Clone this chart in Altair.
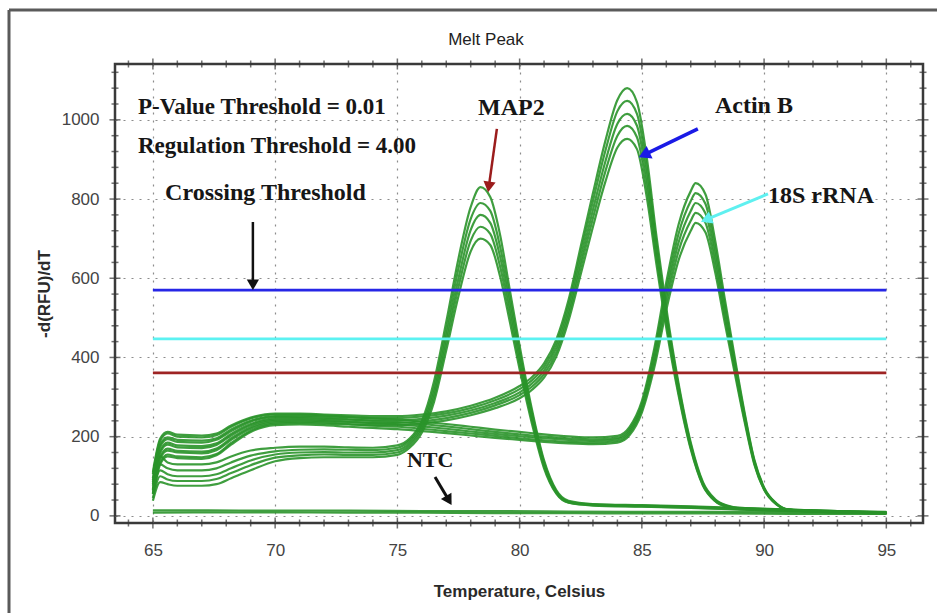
import math
import altair as alt
import pandas as pd

# ---------------- data ----------------
T_MAP2 = [65, 65.3, 65.6, 66, 67, 67.6, 68.2, 69, 70, 71, 72, 73, 74, 75, 75.5, 76, 76.5, 77, 77.5, 78,
          78.4, 78.8, 79.2, 79.6, 80, 80.5, 81, 81.5, 82, 83, 85, 87, 89, 91, 93, 95]
MAP2_R1 = [85, 150, 135, 130, 130, 135, 150, 165, 172, 175, 175, 173, 172, 178, 195, 240, 340, 490, 650, 780,
           830, 805, 710, 570, 430, 270, 140, 65, 38, 30, 27, 24, 20, 16, 12, 8]
MAP2_R2 = [65, 130, 120, 115, 115, 120, 135, 152, 163, 167, 168, 167, 166, 172, 190, 232, 325, 470, 625, 750,
           790, 770, 680, 550, 415, 262, 135, 62, 36, 29, 26, 23, 19, 15, 11, 8]
MAP2_R3 = [55, 115, 105, 100, 100, 105, 120, 140, 155, 160, 161, 160, 160, 166, 184, 225, 312, 452, 600, 722,
           760, 740, 655, 530, 400, 252, 130, 60, 35, 28, 25, 22, 18, 14, 10, 7]
MAP2_R4 = [45, 100, 92, 88, 88, 93, 108, 128, 147, 153, 155, 154, 154, 160, 178, 218, 300, 435, 578, 695,
           730, 712, 630, 510, 385, 243, 125, 58, 34, 27, 24, 21, 17, 13, 10, 7]
MAP2_R5 = [38, 85, 80, 76, 76, 80, 95, 115, 138, 146, 148, 148, 148, 154, 172, 210, 288, 418, 555, 668,
           700, 684, 605, 490, 370, 234, 120, 56, 33, 26, 23, 20, 16, 12, 9, 6]

T_ACTIN = [65, 65.3, 65.6, 66, 67, 67.6, 68.2, 69, 70, 71, 72, 73, 74, 75, 76, 77, 78, 79, 80, 80.5, 81,
           81.5, 82, 82.5, 83, 83.5, 84, 84.4, 84.8, 85.2, 85.6, 86, 86.5, 87, 87.5, 88, 88.5, 89, 91, 93, 95]
ACTIN_R1 = [110, 195, 212, 205, 203, 208, 228, 248, 258, 258, 256, 254, 252, 252, 256, 264, 278, 298, 328, 350, 385,
            445, 545, 680, 815, 945, 1050, 1080, 1045, 905, 705, 525, 335, 185, 85, 42, 26, 20, 16, 12, 10]
ACTIN_R2 = [95, 180, 198, 192, 190, 196, 218, 240, 252, 253, 251, 249, 247, 247, 251, 259, 272, 292, 320, 342, 376,
            435, 532, 663, 795, 920, 1022, 1048, 1015, 880, 688, 512, 328, 180, 82, 40, 25, 19, 15, 12, 9]
ACTIN_R3 = [80, 165, 185, 178, 176, 183, 207, 232, 246, 247, 245, 243, 241, 241, 245, 253, 266, 285, 312, 334, 367,
            424, 518, 645, 773, 893, 990, 1015, 985, 855, 670, 500, 320, 176, 80, 39, 24, 18, 15, 11, 9]
ACTIN_R4 = [68, 150, 170, 164, 162, 170, 196, 224, 240, 241, 239, 237, 235, 235, 239, 247, 260, 279, 305, 326, 358,
            413, 505, 628, 752, 868, 960, 985, 956, 830, 652, 487, 312, 172, 78, 38, 23, 18, 14, 11, 8]
ACTIN_R5 = [58, 135, 155, 150, 148, 156, 184, 215, 233, 235, 233, 231, 229, 229, 233, 241, 254, 272, 297, 318, 349,
            402, 492, 610, 730, 842, 930, 952, 926, 805, 634, 474, 305, 168, 76, 37, 22, 17, 13, 10, 8]

T_18S = [65, 65.3, 65.6, 66, 67, 67.6, 68.2, 69, 70, 71, 72, 73, 74, 75, 76, 77, 78, 79, 80, 81, 82, 83, 84,
         84.5, 85, 85.5, 86, 86.5, 87, 87.2, 87.6, 88, 88.4, 88.8, 89.2, 89.6, 90, 90.5, 91, 93, 95]
S18_R1 = [105, 190, 208, 200, 198, 204, 225, 246, 256, 256, 254, 250, 246, 243, 238, 232, 225, 218, 212, 206, 201, 198, 202,
          225, 290, 420, 590, 735, 820, 840, 812, 695, 545, 400, 262, 142, 72, 32, 16, 10, 8]
S18_R2 = [90, 175, 194, 187, 185, 192, 214, 238, 250, 250, 248, 244, 240, 237, 232, 226, 219, 212, 206, 200, 196, 193, 197,
          219, 282, 408, 572, 712, 795, 815, 788, 675, 530, 390, 256, 139, 70, 31, 16, 10, 8]
S18_R3 = [76, 160, 180, 173, 171, 179, 203, 229, 243, 244, 242, 238, 234, 231, 226, 220, 213, 207, 201, 196, 192, 189, 193,
          214, 275, 396, 555, 690, 770, 790, 764, 655, 515, 380, 250, 136, 69, 30, 15, 9, 7]
S18_R4 = [64, 145, 165, 160, 158, 166, 192, 220, 236, 238, 236, 232, 228, 225, 220, 214, 208, 202, 196, 191, 187, 185, 189,
          209, 268, 384, 538, 668, 745, 765, 740, 635, 500, 370, 244, 133, 67, 30, 15, 9, 7]
S18_R5 = [55, 130, 150, 146, 144, 153, 180, 212, 229, 231, 229, 225, 222, 219, 214, 209, 203, 197, 192, 187, 183, 181, 185,
          204, 261, 372, 520, 645, 720, 740, 716, 615, 485, 360, 238, 130, 66, 29, 15, 9, 7]

T_NTC = [65, 67, 70, 73, 76, 79, 82, 85, 88, 91, 95]
NTC_R1 = [14, 14, 13, 13, 12, 12, 11, 10, 10, 9, 8]
NTC_R2 = [8, 9, 9, 8, 8, 7, 7, 6, 6, 5, 5]

THRESH_VALUES = [570, 447, 361]
THRESH_COLORS = ["#2626e6", "#5cf2f2", "#9e2424"]
THRESH_START, THRESH_END = 65, 95

LABELS = ["P-Value Threshold = 0.01", "Regulation Threshold = 4.00", "Crossing Threshold",
          "MAP2", "Actin B", "18S rRNA", "NTC"]
LABEL_X = [64.39, 64.39, 65.50, 78.30, 87.99, 90.16, 75.39]
LABEL_Y = [1015, 916, 798, 1012, 1017, 790, 123]
LABEL_SIZE = [23, 23, 24, 24, 24, 24, 22]

ARROW_X0 = [69.09, 79.07, 87.29, 90.16, 76.54]
ARROW_Y0 = [742, 977, 977, 813, 98]
ARROW_X1 = [69.09, 78.75, 85.17, 87.70, 77.07]
ARROW_Y1 = [588, 835, 914, 750, 43]
ARROW_COLORS = ["#111111", "#9b1c1c", "#1a1ae6", "#5ff0f0", "#111111"]
ARROW_WIDTHS = [2.5, 2.5, 3.5, 3, 3]
ARROW_HEAD = [150, 150, 190, 170, 150]

X_MAJOR = [65, 70, 75, 80, 85, 90, 95]
Y_MAJOR = [0, 200, 400, 600, 800, 1000]
TITLE = "Melt Peak"

# ---------------- layout ----------------
X_DOM = [63.45, 96.5]
Y_DOM = [-18, 1141]
W, H = 808, 459
PX_X = W / (X_DOM[1] - X_DOM[0])
PX_Y = H / (Y_DOM[1] - Y_DOM[0])
GREEN = "#2a932a"

rows = []
for gene, grid, reps in [
    ("MAP2", T_MAP2, [MAP2_R1, MAP2_R2, MAP2_R3, MAP2_R4, MAP2_R5]),
    ("ACTIN", T_ACTIN, [ACTIN_R1, ACTIN_R2, ACTIN_R3, ACTIN_R4, ACTIN_R5]),
    ("S18", T_18S, [S18_R1, S18_R2, S18_R3, S18_R4, S18_R5]),
    ("NTC", T_NTC, [NTC_R1, NTC_R2]),
]:
    for i, rep in enumerate(reps):
        for t, v in zip(grid, rep):
            rows.append({"T": t, "v": v, "series": f"{gene}-{i}"})
curves = pd.DataFrame(rows)

xs = alt.Scale(domain=X_DOM, nice=False, zero=False)
ys = alt.Scale(domain=Y_DOM, nice=False, zero=False)

x_axis = alt.Axis(values=X_MAJOR, grid=True, gridDash=[2, 6], gridColor="#8c8c8c", gridWidth=1.2,
                  ticks=False, domain=False, labelFontSize=17, labelFont="Liberation Sans",
                  labelColor="#444444", labelPadding=19, title="Temperature, Celsius",
                  titleFontSize=17, titleFont="Liberation Sans", titleFontWeight="bold",
                  titleColor="#2a2a2a", titlePadding=25, format="d")
y_axis = alt.Axis(values=Y_MAJOR, grid=True, gridDash=[2, 6], gridColor="#8c8c8c", gridWidth=1.2,
                  ticks=False, domain=False, labelFontSize=17, labelFont="Liberation Sans",
                  labelColor="#444444", labelPadding=16, title="-d(RFU)/dT",
                  titleFontSize=17, titleFont="Liberation Sans", titleFontWeight="bold",
                  titleColor="#2a2a2a", titlePadding=8, format="d")


def X(field):
    return alt.X(field, scale=xs, axis=x_axis)


def Y(field):
    return alt.Y(field, scale=ys, axis=y_axis)


lines = alt.Chart(curves).mark_line(color=GREEN, strokeWidth=2.2, opacity=0.9, interpolate="monotone").encode(
    x=X("T:Q"), y=Y("v:Q"), detail="series:N",
)

thr = pd.DataFrame({"y": THRESH_VALUES, "c": THRESH_COLORS,
                    "x0": [THRESH_START] * 3, "x1": [THRESH_END] * 3})
thresholds = alt.Chart(thr).mark_rule(strokeWidth=2.8).encode(
    x=X("x0:Q"), x2="x1:Q", y=Y("y:Q"),
    color=alt.Color("c:N", scale=None),
)

angles = []
for x0, y0, x1, y1 in zip(ARROW_X0, ARROW_Y0, ARROW_X1, ARROW_Y1):
    dx = (x1 - x0) * PX_X
    dy = -(y1 - y0) * PX_Y
    angles.append(math.degrees(math.atan2(dx, -dy)) % 360)
arr = pd.DataFrame({"x0": ARROW_X0, "y0": ARROW_Y0, "x1": ARROW_X1, "y1": ARROW_Y1,
                    "c": ARROW_COLORS, "w": ARROW_WIDTHS, "a": angles, "h": ARROW_HEAD})
arrow_lines = alt.Chart(arr).mark_rule().encode(
    x=X("x0:Q"), x2="x1:Q", y=Y("y0:Q"), y2="y1:Q",
    color=alt.Color("c:N", scale=None),
    strokeWidth=alt.StrokeWidth("w:Q", scale=None),
)
arrow_heads = alt.Chart(arr).mark_point(shape="triangle", filled=True, opacity=1).encode(
    x=X("x1:Q"), y=Y("y1:Q"),
    color=alt.Color("c:N", scale=None),
    angle=alt.Angle("a:Q", scale=None),
    size=alt.Size("h:Q", scale=None, legend=None),
)

lab = pd.DataFrame({"t": LABELS, "x": LABEL_X, "y": LABEL_Y, "s": LABEL_SIZE})
texts = alt.Chart(lab).mark_text(font="Liberation Serif", fontWeight="bold", align="left",
                                 baseline="alphabetic", color="#161616").encode(
    x=X("x:Q"), y=Y("y:Q"), text="t:N",
    size=alt.Size("s:Q", scale=None, legend=None),
)

# frame ticks (crossing the frame) on all four sides
xt = pd.DataFrame({"t": list(range(64, 97))})
xt["len"] = [11 if v % 5 == 0 else 7 for v in xt["t"]]
yt = pd.DataFrame({"t": list(range(0, 1121, 40))})
yt["len"] = [11 if v % 200 == 0 else 7 for v in yt["t"]]

tick_layers = []
for ypos in Y_DOM:
    tick_layers.append(alt.Chart(xt).mark_tick(orient="vertical", thickness=1.5, color="#333333").encode(
        x=X("t:Q"), y=alt.YDatum(ypos, scale=ys, axis=y_axis),
        size=alt.Size("len:Q", scale=None, legend=None)))
for xpos in X_DOM:
    tick_layers.append(alt.Chart(yt).mark_tick(orient="horizontal", thickness=1.5, color="#333333").encode(
        y=Y("t:Q"), x=alt.XDatum(xpos, scale=xs, axis=x_axis),
        size=alt.Size("len:Q", scale=None, legend=None)))

one = pd.DataFrame({"a": [0]})
border_left = alt.Chart(one).mark_rule(color="#5a5a5a", strokeWidth=3).encode(
    x=alt.value(-106), y=alt.value(-54), y2=alt.value(H + 100))
border_top = alt.Chart(one).mark_rule(color="#5a5a5a", strokeWidth=3).encode(
    x=alt.value(-106), x2=alt.value(W + 40), y=alt.value(-54))
title_mark = alt.Chart(pd.DataFrame({"t": [TITLE]})).mark_text(
    font="Liberation Sans", fontSize=17, color="#222222", align="center", baseline="middle").encode(
    x=alt.value(W / 2 - 33), y=alt.value(-24), text="t:N")

chart = alt.layer(lines, thresholds, arrow_lines, arrow_heads, texts, *tick_layers,
                  border_left, border_top, title_mark).properties(
    width=W, height=H,
    autosize=alt.AutoSizeParams(type="none"),
    padding={"left": 115, "top": 64, "right": 14, "bottom": 90},
    background="white",
).configure_view(stroke="#3a3a3a", strokeWidth=2.5)

chart.save("out.html", embed_options={"renderer": "svg", "actions": False})
